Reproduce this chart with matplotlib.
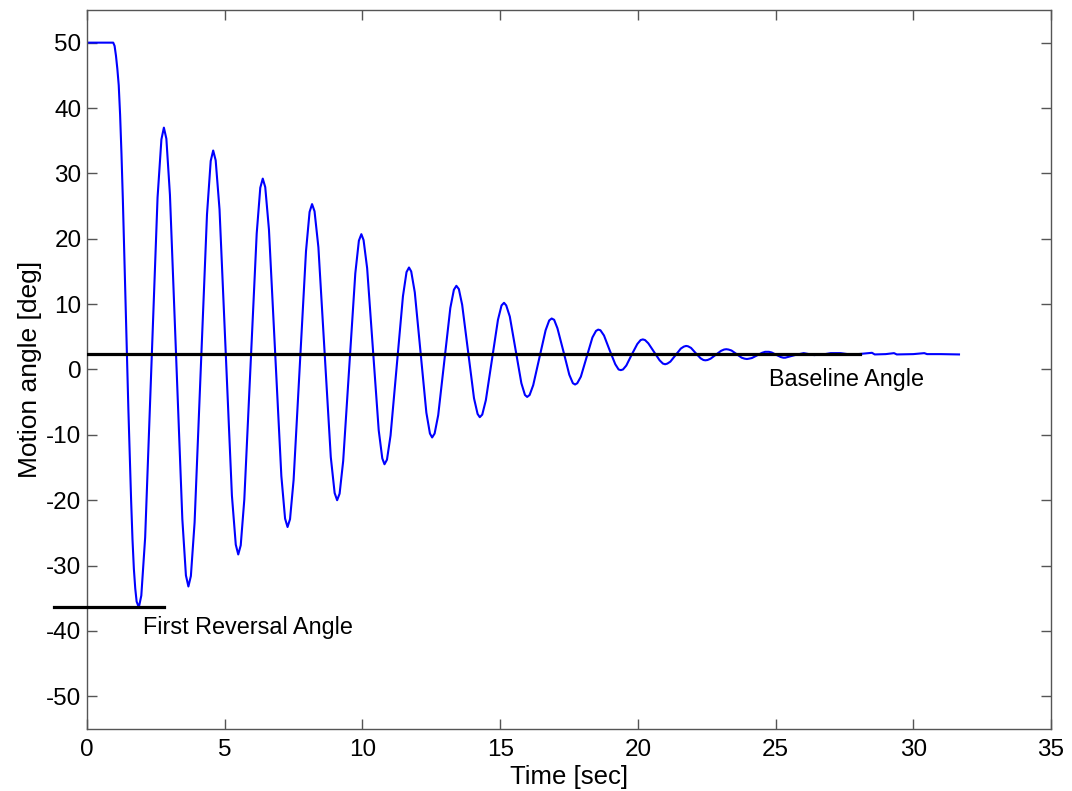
import matplotlib
matplotlib.use("Agg")
import matplotlib.pyplot as plt

# ---- data ----
time_sec = [
    0.00, 0.95, 1.00, 1.05, 1.10, 1.15, 1.20, 1.25, 1.30, 1.35, 1.40, 1.45, 1.50, 1.55, 1.60, 1.65, 1.70, 1.75, 1.80,
    1.88, 1.97, 2.11, 2.335, 2.56, 2.70,
    2.79, 2.88, 3.01, 3.235, 3.46, 3.59,
    3.68, 3.77, 3.905, 4.13, 4.355, 4.49,
    4.58, 4.67, 4.81, 5.035, 5.26, 5.40,
    5.49, 5.58, 5.71, 5.935, 6.16, 6.29,
    6.38, 6.47, 6.605, 6.83, 7.055, 7.19,
    7.28, 7.37, 7.50, 7.725, 7.95, 8.08,
    8.17, 8.26, 8.40, 8.625, 8.85, 8.99,
    9.08, 9.17, 9.30, 9.52, 9.74, 9.87,
    9.96, 10.04, 10.17, 10.38, 10.59, 10.72,
    10.80, 10.89, 11.02, 11.245, 11.47, 11.60,
    11.69, 11.77, 11.90, 12.11, 12.32, 12.45,
    12.53, 12.62, 12.75, 12.97, 13.19, 13.32,
    13.41, 13.50, 13.62, 13.835, 14.05, 14.18,
    14.26, 14.35, 14.48, 14.70, 14.92, 15.05,
    15.14, 15.22, 15.35, 15.56, 15.77, 15.90,
    15.98, 16.07, 16.20, 16.425, 16.65, 16.78,
    16.87, 16.96, 17.08, 17.295, 17.51, 17.64,
    17.72, 17.80, 17.93, 18.14, 18.35, 18.48,
    18.56, 18.64, 18.77, 18.97, 19.18, 19.30,
    19.38, 19.46, 19.58, 19.78, 19.98, 20.10,
    20.18, 20.26, 20.38, 20.585, 20.79, 20.91,
    20.99, 21.07, 21.18, 21.37, 21.56, 21.67,
    21.75, 21.82, 21.93, 22.10, 22.28, 22.38,
    22.45, 22.53, 22.64, 22.83, 23.02, 23.13,
    23.21, 23.29, 23.40, 23.585, 23.77, 23.88,
    23.96, 24.03, 24.14, 24.325, 24.51, 24.62,
    24.69, 24.76, 24.86, 25.02, 25.19, 25.28,
    25.35, 25.70, 26.02, 26.40, 26.80, 27.00, 27.36, 27.70, 28.00, 28.50,
    28.60, 29.00, 29.30, 29.40, 30.00, 30.40, 30.50, 31.00, 31.66,
]
motion_angle = [
    50.0, 50.0, 49.5, 48.0, 46.0, 43.5, 39.0, 33.0, 26.0, 18.0, 10.0, 2.0, -6.0, -13.0, -20.0, -26.0, -30.5, -33.5, -35.5,
    -36.4, -34.6, -25.7, 0.3, 26.3, 35.2,
    37.0, 35.3, 26.7, 1.9, -22.9, -31.5,
    -33.2, -31.6, -23.4, 0.2, 23.7, 31.9,
    33.5, 32.0, 24.5, 2.6, -19.3, -26.8,
    -28.3, -26.9, -19.9, 0.5, 20.8, 27.8,
    29.2, 27.9, 21.4, 2.6, -16.3, -22.8,
    -24.1, -22.9, -16.9, 0.6, 18.1, 24.1,
    25.3, 24.2, 18.7, 2.7, -13.4, -18.9,
    -20.0, -19.0, -14.0, 0.4, 14.7, 19.7,
    20.7, 19.8, 15.5, 3.1, -9.3, -13.6,
    -14.5, -13.8, -10.1, 0.6, 11.2, 14.9,
    15.6, 15.0, 11.8, 2.6, -6.6, -9.8,
    -10.4, -9.8, -7.0, 1.2, 9.4, 12.2,
    12.8, 12.3, 9.9, 2.8, -4.4, -6.8,
    -7.3, -6.9, -4.7, 1.5, 7.6, 9.8,
    10.2, 9.8, 8.1, 3.0, -2.1, -3.9,
    -4.2, -3.9, -2.4, 1.8, 6.0, 7.5,
    7.8, 7.6, 6.3, 2.8, -0.8, -2.1,
    -2.3, -2.1, -1.1, 1.9, 4.9, 5.9,
    6.1, 6.0, 5.2, 3.0, 0.8, 0.0,
    -0.1, 0.0, 0.6, 2.3, 3.9, 4.5,
    4.6, 4.5, 4.0, 2.7, 1.4, 0.9,
    0.8, 0.9, 1.2, 2.2, 3.2, 3.5,
    3.6, 3.55, 3.3, 2.5, 1.7, 1.45,
    1.4, 1.45, 1.65, 2.25, 2.85, 3.05,
    3.1, 3.05, 2.9, 2.35, 1.8, 1.65,
    1.6, 1.65, 1.75, 2.15, 2.55, 2.7,
    2.7, 2.7, 2.6, 2.25, 1.9, 1.8,
    1.8, 2.2, 2.5, 2.2, 2.35, 2.5, 2.5, 2.3, 2.35, 2.55,
    2.3, 2.35, 2.5, 2.3, 2.35, 2.5, 2.35, 2.35, 2.3,
]

baseline_angle = 2.3
baseline_x = [0.0, 28.05]
reversal_angle = -36.3
reversal_x = [-1.2, 2.8]

x_ticks = [0, 5, 10, 15, 20, 25, 30, 35]
y_ticks = [-50, -40, -30, -20, -10, 0, 10, 20, 30, 40, 50]

plt.rcParams['font.family'] = ['Liberation Sans', 'DejaVu Sans']
plt.rcParams['axes.unicode_minus'] = False

fig = plt.figure(figsize=(10.72, 7.91), dpi=100)
ax = fig.add_axes([0.0812, 0.0784, 0.8992, 0.909])

ax.plot(time_sec, motion_angle, color='#0000ff', lw=1.5, zorder=2)
ax.plot(baseline_x, [baseline_angle, baseline_angle], color='black', lw=2.3, zorder=3)
ax.plot(reversal_x, [reversal_angle, reversal_angle], color='black', lw=2.3, zorder=3, clip_on=False)

ax.text(24.77, -1.6, 'Baseline Angle', fontsize=16.8, ha='left', va='center')
ax.text(2.04, -39.5, 'First Reversal Angle', fontsize=16.8, ha='left', va='center')

ax.set_xlim(0, 35)
ax.set_ylim(-55, 55)
ax.set_xticks(x_ticks)
ax.set_yticks(y_ticks)
ax.tick_params(direction='in', length=7, width=1, color='#555555', top=True, right=True,
               labelsize=17.5, labelcolor='black')
ax.tick_params(axis='x', pad=7)
ax.tick_params(axis='y', pad=4)
for s in ax.spines.values():
    s.set_color('#555555')
    s.set_linewidth(1)

ax.set_xlabel('Time [sec]', fontsize=18.5, labelpad=3)
ax.set_ylabel('Motion angle [deg]', fontsize=19, labelpad=3)

fig.savefig('out.png', dpi=100)
